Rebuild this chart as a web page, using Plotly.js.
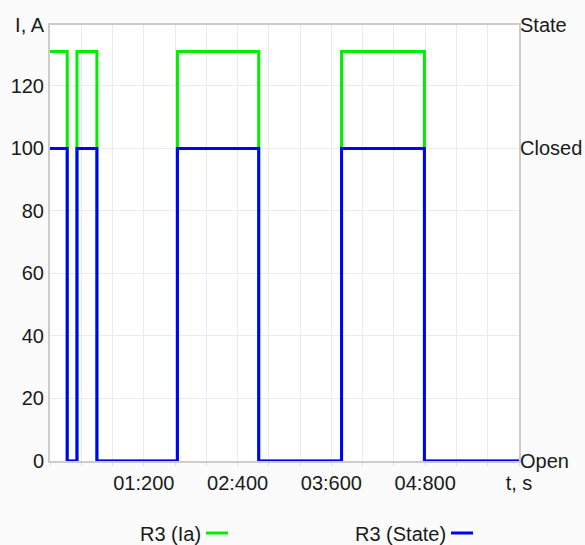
<!DOCTYPE html>
<html>
<head>
<meta charset="utf-8">
<script src="https://cdn.plot.ly/plotly-3.0.1.min.js"></script>
<style>
html,body{margin:0;padding:0;background:#fbfbfb;}
#chart{width:585px;height:545px;}
</style>
</head>
<body>
<div id="chart"></div>
<script>
// time in ms
const times = [0, 220, 345, 600, 1630, 2670, 3730, 4790, 6000];
const currentIa = [131, 0, 131, 0, 131, 0, 131, 0, 0];
const stateVals = [100, 0, 100, 0, 100, 0, 100, 0, 0];

const xTickVals = [1200, 2400, 3600, 4800, 6000];
const xTickText = ['01:200', '02:400', '03:600', '04:800', 't, s'];
const yTickVals = [0, 20, 40, 60, 80, 100, 120, 139.5];
const yTickText = ['0', '20', '40', '60', '80', '100', '120', 'I, A'];
const stateTickVals = [0, 100, 139.5];
const stateTickText = ['Open', 'Closed', 'State'];
const seriesNames = ['R3 (Ia)', 'R3 (State)'];
const seriesColors = ['#00ee00', '#0000ff'];

const font = {family: 'Liberation Sans, Arial, sans-serif', size: 20, color: '#1a1a1a'};
const yRange = [0, 139.5];

const traces = [
  {x: times, y: currentIa, name: seriesNames[0], type: 'scatter', mode: 'lines',
   line: {shape: 'hv', color: seriesColors[0], width: 3}, yaxis: 'y', showlegend: false},
  {x: times, y: stateVals, name: seriesNames[1], type: 'scatter', mode: 'lines',
   line: {shape: 'hv', color: seriesColors[1], width: 3}, yaxis: 'y2', showlegend: false}
];

const layout = {
  width: 585, height: 545,
  margin: {l: 50, r: 66, t: 25, b: 84},
  paper_bgcolor: '#fbfbfb',
  plot_bgcolor: '#ffffff',
  font: font,
  showlegend: false,
  xaxis: {
    range: [0, 6000], tickvals: xTickVals, ticktext: xTickText,
    showgrid: true, gridcolor: '#ebebeb', gridwidth: 1,
    ticks: 'outside', ticklen: 3, tickcolor: '#dddddd',
    minor: {dtick: 400, tick0: 0, showgrid: true, gridcolor: '#ebebeb', ticks: 'outside', ticklen: 3, tickcolor: '#dddddd'},
    showline: true, linecolor: '#cccccc', linewidth: 2, mirror: true,
    zeroline: false, tickfont: font
  },
  yaxis: {
    range: yRange, tickvals: yTickVals, ticktext: yTickText,
    showgrid: true, gridcolor: '#ebebeb', ticks: '',
    showline: true, linecolor: '#cccccc', linewidth: 2, mirror: true,
    zeroline: false, tickfont: font
  },
  yaxis2: {
    range: yRange, overlaying: 'y', side: 'right',
    tickvals: stateTickVals, ticktext: stateTickText,
    showgrid: false, ticks: '', showline: false, zeroline: false, tickfont: font
  },
  annotations: [
    {xref: 'paper', yref: 'paper', x: 202/469 - 50/469 + 0, y: 0, text: seriesNames[0], showarrow: false,
     xanchor: 'right', yanchor: 'middle', font: font}
  ],
  shapes: []
};

// legend built from the series names/colours (text followed by a short line sample)
const legendItems = [
  {textRight: 203, lineX0: 206, lineX1: 228},
  {textRight: 448, lineX0: 451, lineX1: 473}
];
const plotL = 50, plotW = 585 - 50 - 66, plotT = 25, plotH = 545 - 25 - 84;
const legY = 534;
layout.annotations = [];
legendItems.forEach((it, i) => {
  layout.annotations.push({
    xref: 'paper', yref: 'paper',
    x: (it.textRight - plotL) / plotW, y: (plotT + plotH - legY) / plotH,
    text: seriesNames[i], showarrow: false, xanchor: 'right', yanchor: 'middle',
    font: font
  });
  layout.shapes.push({
    type: 'line', xref: 'paper', yref: 'paper',
    x0: (it.lineX0 - plotL) / plotW, x1: (it.lineX1 - plotL) / plotW,
    y0: (plotT + plotH - legY + 1) / plotH, y1: (plotT + plotH - legY + 1) / plotH,
    line: {color: seriesColors[i], width: 3}
  });
});

Plotly.newPlot('chart', traces, layout, {displayModeBar: false, staticPlot: true});
</script>
</body>
</html>
